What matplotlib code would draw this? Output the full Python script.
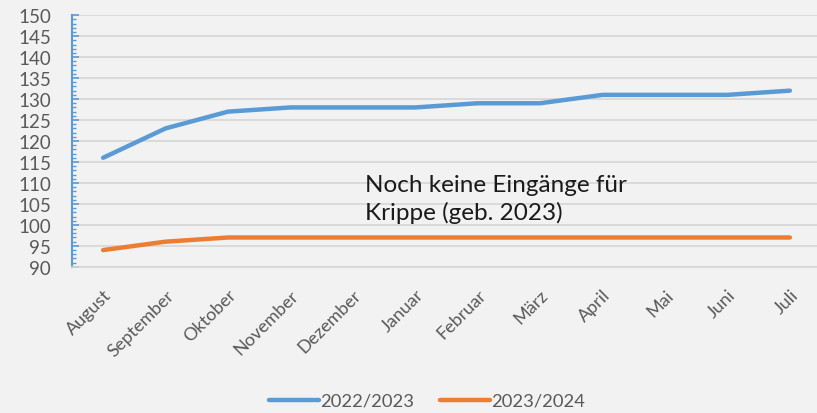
import matplotlib.pyplot as plt
from matplotlib.ticker import MultipleLocator

months = ['August', 'September', 'Oktober', 'November', 'Dezember', 'Januar',
          'Februar', 'März', 'April', 'Mai', 'Juni', 'Juli']
s2022 = [116, 123, 127, 128, 128, 128, 129, 129, 131, 131, 131, 132]
s2023 = [94, 96, 97, 97, 97, 97, 97, 97, 97, 97, 97, 97]

plt.rcParams['font.family'] = ['Lato', 'DejaVu Sans']

fig = plt.figure(figsize=(8.17, 4.14), dpi=100, facecolor='#f2f2f2')
ax = fig.add_axes([0.088, 0.353, 0.917, 0.608])
ax.set_facecolor('#f2f2f2')

x = range(len(months))
ax.plot(x, s2022, color='#5b9bd5', lw=3.2, solid_capstyle='round', label='2022/2023')
ax.plot(x, s2023, color='#ed7d31', lw=3.2, solid_capstyle='round', label='2023/2024')

ax.set_xlim(-0.5, 11.5)
ax.set_ylim(90, 150)
ax.yaxis.set_major_locator(MultipleLocator(5))
ax.yaxis.set_minor_locator(MultipleLocator(1))
ax.grid(axis='y', color='#d6d6d6', lw=1.2)
ax.set_axisbelow(True)

for s in ['top', 'right']:
    ax.spines[s].set_visible(False)
ax.spines['left'].set_color('#5b9bd5')
ax.spines['left'].set_linewidth(1.5)
ax.spines['bottom'].set_color('#d6d6d6')
ax.spines['bottom'].set_linewidth(1.2)

ax.tick_params(axis='y', which='major', direction='in', length=5, width=1.2,
               color='#5b9bd5', pad=15, labelsize=13.5, labelcolor='#595959')
ax.tick_params(axis='y', which='minor', direction='in', length=3, width=1,
               color='#5b9bd5')
ax.tick_params(axis='x', length=0, pad=14, labelsize=13, labelcolor='#595959')
ax.set_xticks(list(x))
ax.set_xticklabels(months, rotation=45, ha='right', rotation_mode='anchor')

ax.text(4.2, 106.3, 'Noch keine Eingänge für\nKrippe (geb. 2023)', fontsize=17.5,
        color='#1a1a1a', va='center', ha='left', linespacing=1.3)

fig.legend(loc='lower center', bbox_to_anchor=(0.523, -0.03), ncol=2, frameon=False,
           fontsize=13.2, labelcolor='#595959', handlelength=2.7, handletextpad=0.1,
           columnspacing=1.4)

plt.savefig('out.png', dpi=100, facecolor=fig.get_facecolor())
